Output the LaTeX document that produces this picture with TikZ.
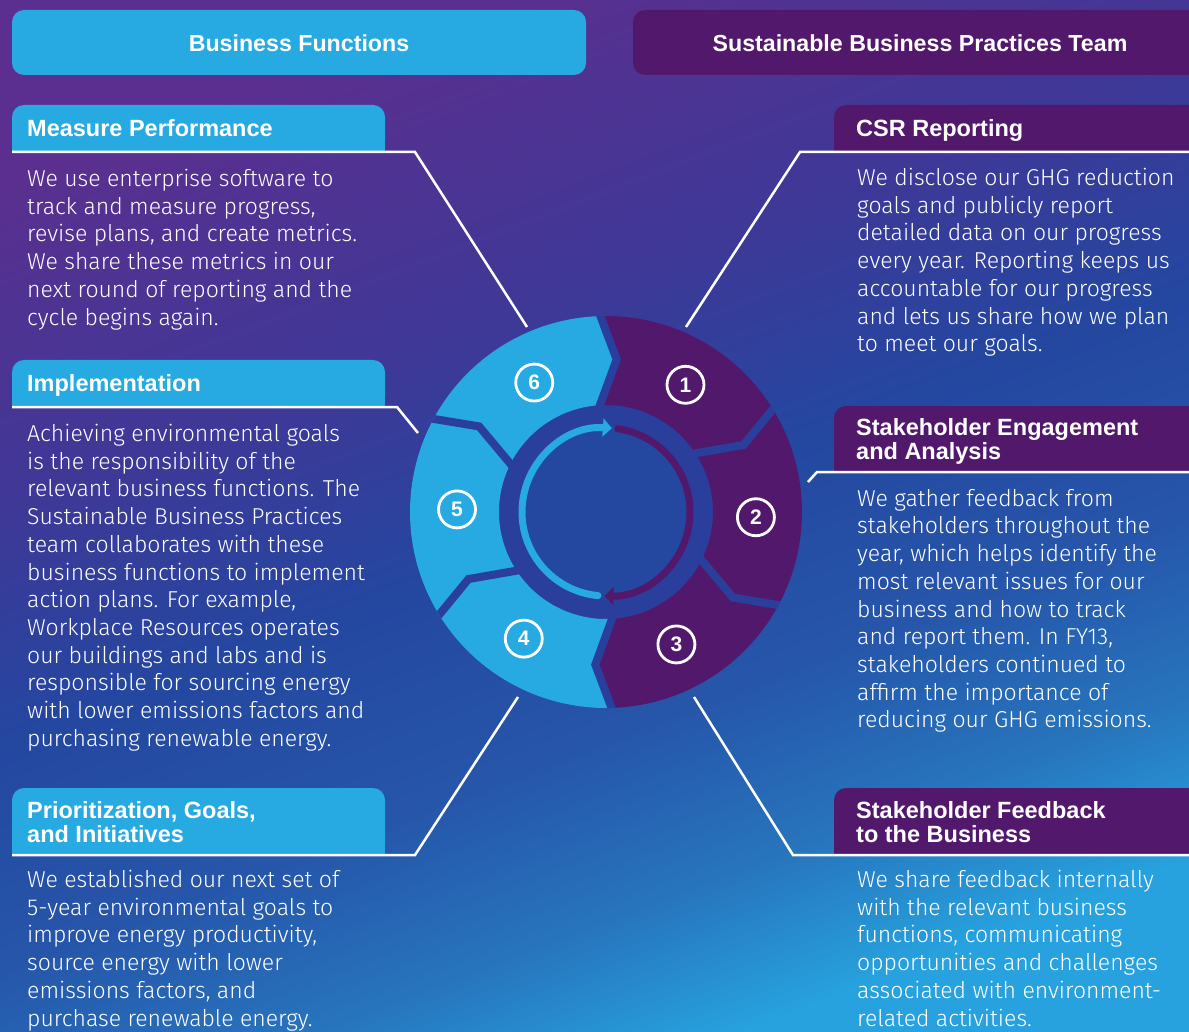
\documentclass[tikz,border=0pt]{standalone}
\usepackage{fontspec}
\setmainfont{Liberation Sans}
\newfontfamily\thinfont{Fira Sans Light}
\usepackage{tikz}
\usetikzlibrary{positioning}
\usetikzlibrary{arrows.meta}
\usepackage{xcolor}

\definecolor{cblue}{HTML}{27A9E1}
\definecolor{cpurple}{HTML}{52186B}
\definecolor{bgtop}{HTML}{5B2F8F}
\definecolor{bgup}{HTML}{3E3897}
\definecolor{bgmid}{HTML}{2447A0}
\definecolor{bglow}{HTML}{2656AA}
\definecolor{bgdeep}{HTML}{2775BD}
\definecolor{bgbot}{HTML}{27A2DE}
\definecolor{ringdark}{HTML}{2A3E9B}

\pgfdeclareverticalshading{bgshade}{100bp}{color(0bp)=(bgbot); color(25bp)=(bgbot); color(32bp)=(bgdeep); color(40bp)=(bglow); color(50bp)=(bgmid); color(60bp)=(bgup); color(75bp)=(bgtop); color(100bp)=(bgtop)}

\begin{document}
\begin{tikzpicture}[x=1pt, y=1pt,
  toptxt/.style={anchor=base, inner sep=0, text=white, font=\fontsize{23.2}{27}\selectfont\bfseries},
  headtxt/.style={anchor=north west, inner sep=0, align=left, text=white, font=\fontsize{23.5}{24.5}\selectfont\bfseries},
  bodytxt/.style={anchor=north west, inner sep=0, align=left, text=white, font=\thinfont\fontsize{23}{27.7}\selectfont},
  leader/.style={white, line width=2.5pt},
  num/.style={circle, draw=white, line width=2.8pt, minimum size=37pt, inner sep=0, text=white, font=\fontsize{21}{21}\selectfont\bfseries},
  arrowring/.style={line width=7pt, line cap=round, -{Triangle[length=9pt, width=18pt]}}]

\useasboundingbox (0,0) rectangle (1189,-1032);
\clip (0,0) rectangle (1189,-1032);
\shade[shading=bgshade, shading angle=21] (0,0) rectangle (1189,-1032);

% top titles
\fill[cblue, rounded corners=12pt] (12,-10) rectangle (586,-75);
\node[toptxt] (bf) at (299,-52) {Business Functions};
\fill[cpurple, rounded corners=12pt] (633,-10) rectangle (1207,-75);
\node[toptxt] (sbp) at (920,-52) {Sustainable Business Practices Team};

% left column
\fill[cblue, rounded corners=12pt] (12,-105) rectangle (385,-152);
\fill[cblue] (12,-130) rectangle (385,-152);
\node[headtxt] (mp) at (27,-119) {Measure Performance};
\node[bodytxt] (mpbody) at (27,-169) {We use enterprise software to\\track and measure progress,\\revise plans, and create metrics.\\We share these metrics in our\\next round of reporting and the\\cycle begins again.};

\fill[cblue, rounded corners=12pt] (12,-360) rectangle (385,-407);
\fill[cblue] (12,-385) rectangle (385,-407);
\node[headtxt] (impl) at (27,-374) {Implementation};
\node[bodytxt] (implbody) at (27,-424) {Achieving environmental goals\\is the responsibility of the\\relevant business functions. The\\Sustainable Business Practices\\team collaborates with these\\business functions to implement\\action plans. For example,\\Workplace Resources operates\\our buildings and labs and is\\responsible for sourcing energy\\with lower emissions factors and\\purchasing renewable energy.};

\fill[cblue, rounded corners=12pt] (12,-788) rectangle (385,-855);
\fill[cblue] (12,-820) rectangle (385,-855);
\node[headtxt] (prio) at (27,-801) {Prioritization, Goals,\\and Initiatives};
\node[bodytxt] (priobody) at (27,-870) {We established our next set of\\5-year environmental goals to\\improve energy productivity,\\source energy with lower\\emissions factors, and\\purchase renewable energy.};

% right column
\fill[cpurple, rounded corners=12pt] (834,-105) rectangle (1207,-152);
\fill[cpurple] (834,-130) rectangle (1207,-152);
\node[headtxt] (csr) at (856,-119) {CSR Reporting};
\node[bodytxt] (csrbody) at (857,-168) {We disclose our GHG reduction\\goals and publicly report\\detailed data on our progress\\every year. Reporting keeps us\\accountable for our progress\\and lets us share how we plan\\to meet our goals.};

\fill[cpurple, rounded corners=12pt] (834,-406) rectangle (1207,-472);
\fill[cpurple] (834,-440) rectangle (1207,-472);
\node[headtxt] (eng) at (856,-418) {Stakeholder Engagement\\and Analysis};
\node[bodytxt] (engbody) at (857,-489) {We gather feedback from\\stakeholders throughout the\\year, which helps identify the\\most relevant issues for our\\business and how to track\\and report them. In FY13,\\stakeholders continued to\\affirm the importance of\\reducing our GHG emissions.};

\fill[cpurple, rounded corners=12pt] (834,-788) rectangle (1207,-855);
\fill[cpurple] (834,-820) rectangle (1207,-855);
\node[headtxt] (fb) at (856,-801) {Stakeholder Feedback\\to the Business};
\node[bodytxt] (fbbody) at (857,-870) {We share feedback internally\\with the relevant business\\functions, communicating\\opportunities and challenges\\associated with environment-\\related activities.};

% leader lines
\coordinate (mpa) at (12,-152);
\coordinate (mpb) at (415,-152);
\coordinate (mpc) at (527,-327);
\coordinate (impla) at (12,-407);
\coordinate (implb) at (397,-407);
\coordinate (implc) at (418,-433);
\coordinate (prioa) at (12,-855);
\coordinate (priob) at (415,-855);
\coordinate (prioc) at (518,-697);
\coordinate (csra) at (1207,-152);
\coordinate (csrb) at (800,-152);
\coordinate (csrc) at (686,-327);
\coordinate (enga) at (1207,-472);
\coordinate (engb) at (817,-472);
\coordinate (engc) at (808,-482);
\coordinate (fba) at (1207,-855);
\coordinate (fbb) at (793,-855);
\coordinate (fbc) at (694,-697);

\draw[leader] (mpa)--(mpb)--(mpc);
\draw[leader] (impla)--(implb)--(implc);
\draw[leader] (prioa)--(priob)--(prioc);
\draw[leader] (csra)--(csrb)--(csrc);
\draw[leader] (enga)--(engb)--(engc);
\draw[leader] (fba)--(fbb)--(fbc);

% wheel
\begin{scope}[shift={(606,-512)}]
\fill[ringdark] (0,0) circle[radius=110];
\fill[bgmid] (0,0) circle[radius=86];

\foreach \s/\c in {92.5/cpurple, 32.5/cpurple, -27.5/cpurple, -87.5/cblue, -147.5/cblue, -207.5/cblue}
{
  \pgfmathsetmacro\e{\s-60}
  \fill[\c] (\s:196) arc[start angle=\s, end angle=\e, radius=196] -- (\e-6.5:153) -- (\e+2.5:107)
    arc[start angle=\e+2.5, end angle=\s+2.5, radius=107] -- (\s-6.5:153) -- cycle;
}

\begin{scope}
\clip (0,0) circle[radius=196];
\foreach \b in {92.5, 32.5, -27.5, -87.5, -147.5, -207.5}
  \draw[ringdark, line width=8pt] (\b:205) -- (\b-6.5:153) -- (\b+2.5:100);
\end{scope}

\draw[cblue, arrowring] (264.5:84) arc[start angle=264.5, end angle=86, radius=84];
\draw[cpurple, arrowring] (82:84) arc[start angle=82, end angle=-91, radius=84];

\node[num] (n1) at (58:150) {1};
\node[num] (n2) at (-2:150) {2};
\node[num] (n3) at (-62:150) {3};
\node[num] (n4) at (-123:151) {4};
\node[num] (n5) at (179:149) {5};
\node[num] (n6) at (119:148) {6};
\end{scope}

\end{tikzpicture}
\end{document}
